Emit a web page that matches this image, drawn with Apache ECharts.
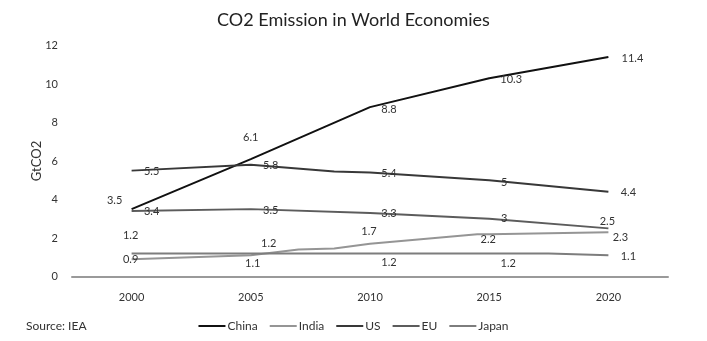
<!DOCTYPE html>
<html>
<head>
<meta charset="utf-8">
<script src="https://cdn.jsdelivr.net/npm/echarts@6/dist/echarts.min.js"></script>
<style>
html,body{margin:0;padding:0;background:#fff;}
#chart{width:707px;height:341px;}
</style>
</head>
<body>
<div id="chart"></div>
<script>
// ---- data ----
const years = [2000, 2005, 2010, 2015, 2020];
const china = [3.5, 6.1, 8.8, 10.3, 11.4];
const india = [0.9, 1.1, 1.7, 2.2, 2.3];
const us    = [5.5, 5.8, 5.4, 5.0, 4.4];
const eu    = [3.4, 3.5, 3.3, 3.0, 2.5];
const japan = [1.2, 1.2, 1.2, 1.2, 1.1];
// intermediate bends of the lines [year, value]
const indiaBends = [[2007, 1.4], [2008.5, 1.45], [2014.5, 2.2]];
const japanBends = [[2017.5, 1.2]];
const usBends = [[2008.5, 5.45]];
const xTickLabels = ['2000', '2005', '2010', '2015', '2020'];
const yTicks = [0, 2, 4, 6, 8, 10, 12];

// ---- label placement (style) ----
const labelOffsets = {
  China: [[-17,-9],[0,-22],[19,2],[22,1],[24,1]],
  India: [[-1,0],[2,8],[-1,-12],[-1,5],[12,5]],
  US:    [[20,1],[20,1],[19,1],[15,2],[20,1]],
  EU:    [[20,0],[20,1],[19,0],[15,0],[-1,-7]],
  Japan: [[-1,-18],[18,-10],[19,9],[19,10],[20,1]]
};
const colors = {China:'#111111', India:'#959595', US:'#383838', EU:'#5c5c5c', Japan:'#7d7d7d'};

function build(name, vals, bends) {
  const pts = years.map((y, i) => ({
    value: [y, vals[i]],
    label: {show: true, position: 'inside', offset: labelOffsets[name][i]}
  }));
  (bends || []).forEach(b => pts.push({value: [b[0], b[1]], label: {show: false}}));
  pts.sort((a, b) => a.value[0] - b.value[0]);
  return {
    name: name,
    type: 'line',
    data: pts,
    symbol: 'circle',
    symbolSize: 1,
    showSymbol: true,
    itemStyle: {color: 'rgba(0,0,0,0)'},
    lineStyle: {color: colors[name], width: 2},
    color: colors[name],
    label: {
      color: '#333', fontSize: 11, fontFamily: 'Lato',
      formatter: p => String(p.value[1])
    },
    emphasis: {disabled: true},
    animation: false
  };
}

const chart = echarts.init(document.getElementById('chart'));
chart.setOption({
  backgroundColor: '#fff',
  textStyle: {fontFamily: 'Lato'},
  title: {
    text: 'CO2 Emission in World Economies',
    left: 'center', top: 6,
    textStyle: {fontSize: 18, fontWeight: 'normal', color: '#222', fontFamily: 'Lato'}
  },
  grid: {left: 72, right: 39, top: 45.5, bottom: 64.5},
  legend: {
    data: ['China', 'India', 'US', 'EU', 'Japan'].map(n => ({name: n, icon: 'rect', itemStyle: {color: colors[n]}})),
    left: 'center', top: 315,
    itemWidth: 27, itemHeight: 2, itemGap: 12,
    textStyle: {fontSize: 12, color: '#333', fontFamily: 'Lato', padding: [0,0,0,-3]}
  },
  xAxis: {
    type: 'value', min: 1997.5, max: 2022.5, interval: 2.5,
    axisLine: {show: true, lineStyle: {color: '#9a9a9a', width: 2}},
    axisTick: {show: false},
    splitLine: {show: false},
    axisLabel: {
      color: '#333', fontSize: 11, margin: 15,
      formatter: v => {
        const i = years.indexOf(v);
        return i >= 0 ? xTickLabels[i] : '';
      }
    }
  },
  yAxis: {
    type: 'value', min: yTicks[0], max: yTicks[yTicks.length-1], interval: 2,
    name: 'GtCO2', nameLocation: 'middle', nameRotate: 90, nameGap: 29,
    nameMoveOverlap: false,
    nameTextStyle: {fontSize: 13, color: '#333'},
    axisLine: {show: false}, axisTick: {show: false}, splitLine: {show: false},
    axisLabel: {color: '#333', fontSize: 11, margin: 14}
  },
  graphic: [{
    type: 'text', left: 26, top: 320,
    style: {text: 'Source: IEA', fontSize: 12, fill: '#333', fontFamily: 'Lato'}
  }],
  series: [
    build('China', china),
    build('India', india, indiaBends),
    build('US', us, usBends),
    build('EU', eu),
    build('Japan', japan, japanBends)
  ]
});
</script>
</body>
</html>
